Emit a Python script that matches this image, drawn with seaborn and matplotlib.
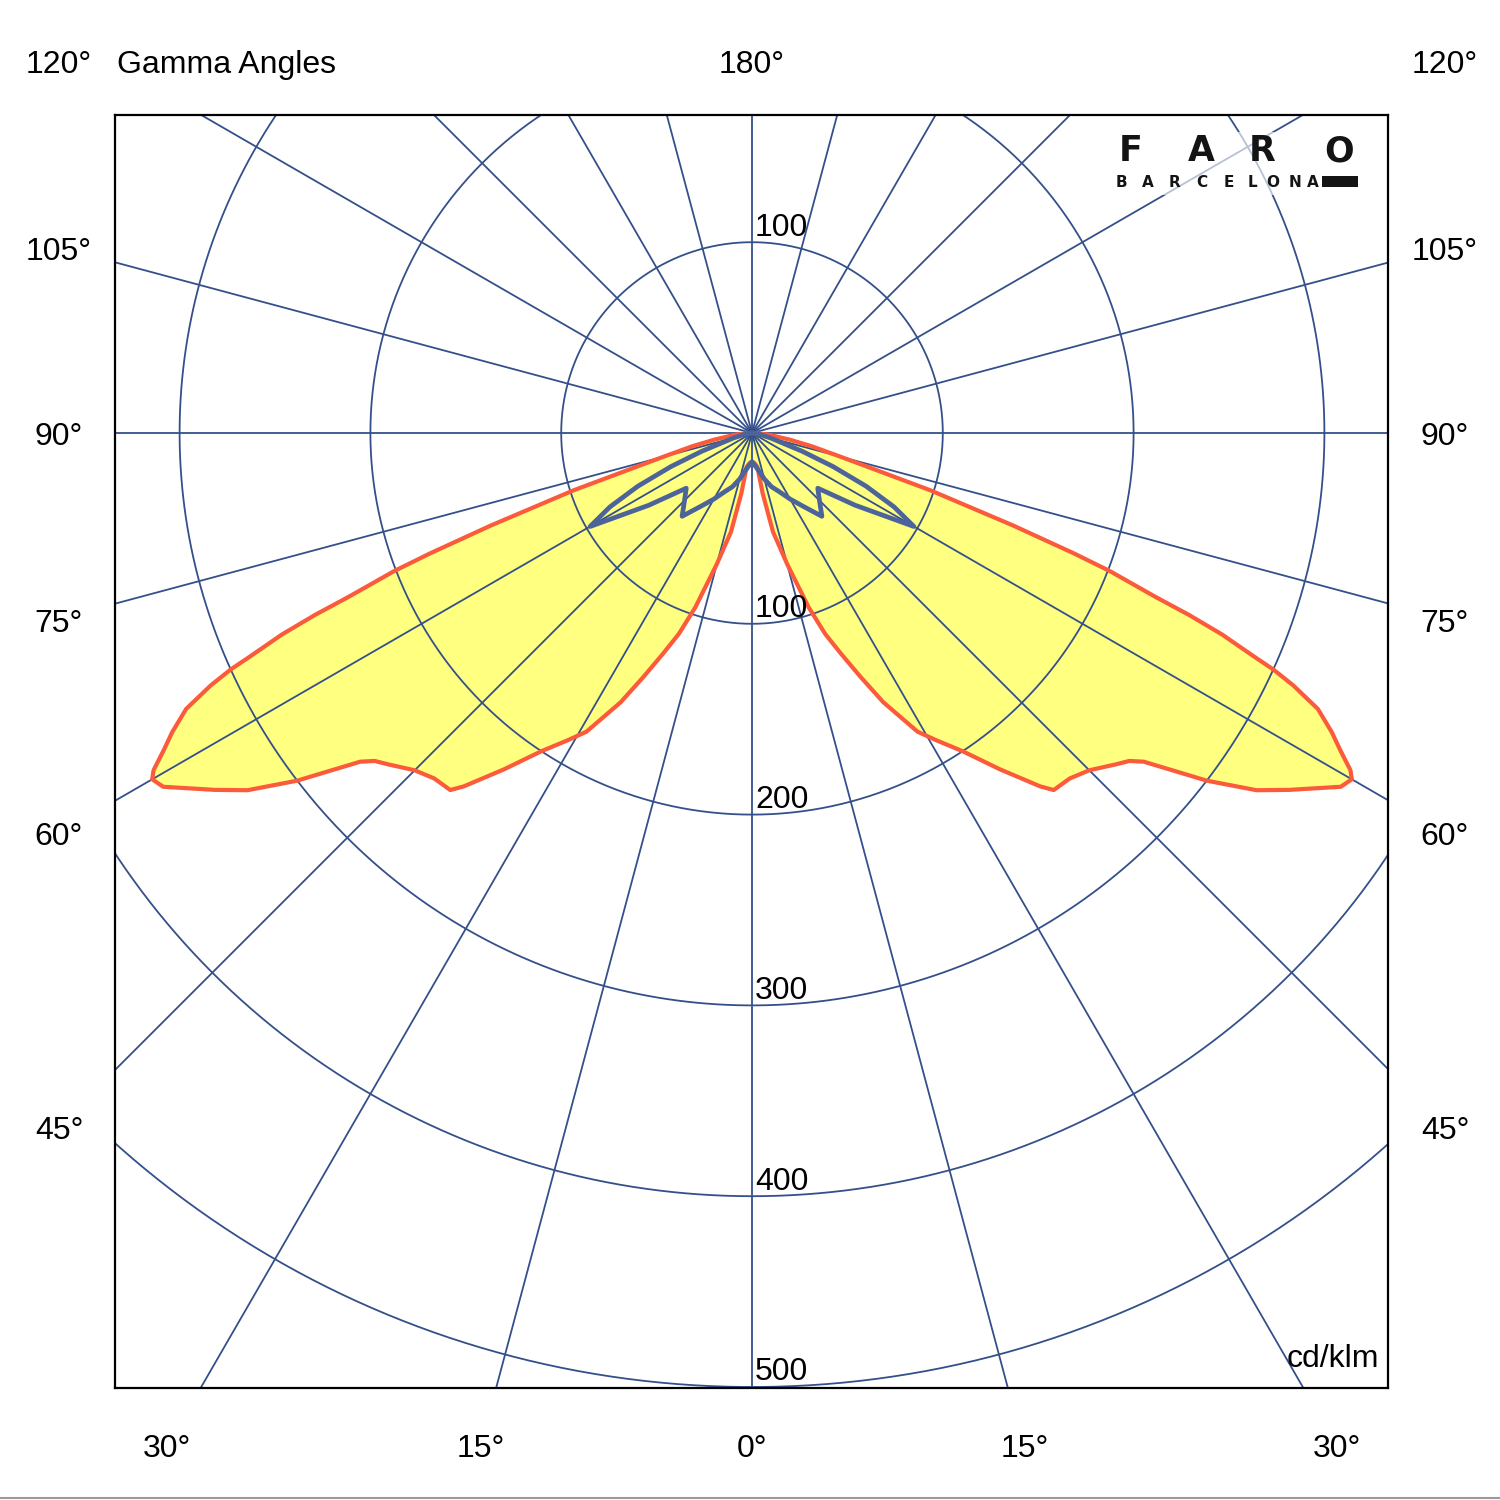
import numpy as np
import pandas as pd
import matplotlib
matplotlib.use("Agg")
import matplotlib.pyplot as plt
import seaborn as sns
from matplotlib.patches import Rectangle
from matplotlib.lines import Line2D

# ---------------- data ----------------
# C0/C180 plane (yellow lobe, red outline): gamma angle (deg) and intensity (cd/klm)
c0_gamma = [0, 5, 9, 10, 12, 15, 18, 20, 22, 24, 26, 29, 31, 33.5, 36.4, 39.2, 40.2,
            42.6, 45, 47.7, 49, 50, 51.3, 52.6, 54.7, 56.4, 59, 60, 60.6, 61.7, 62.7,
            64, 65, 65.6, 66, 66.8, 67.4, 67.9, 68.9, 69.5, 70.5, 72.2, 75, 77.5, 80,
            85, 90]
c0_int = [15, 16, 18, 32, 53, 71, 96, 112, 125, 140, 157, 179, 188, 200, 219, 239, 245,
          246, 250, 258, 262, 268, 283, 300, 324, 338, 360, 363, 360, 350, 342,
          330, 313, 300, 288, 268, 248, 228, 201, 180, 145, 98, 48, 32, 20,
          8, 0]

# C90/C270 plane (blue outline)
c90_gamma = [0, 5, 10, 15, 20, 25, 30, 35, 40, 45, 50, 55, 60, 62.5, 65, 67.5, 70, 75,
             80, 85, 90]
c90_int = [15, 17, 20, 25, 30, 34, 40, 47, 57, 50, 45, 66, 98, 84, 66, 46, 28, 10,
           4, 1, 0]

ring_values = [100, 200, 300, 400, 500]
ring_labels = ["100", "200", "300", "400", "500"]
spoke_angles = list(range(0, 360, 15))

top_labels = ["120°", "180°", "120°"]
side_labels = ["105°", "90°", "75°", "60°", "45°"]
bottom_labels = ["30°", "15°", "0°", "15°", "30°"]
title_text = "Gamma Angles"
unit_text = "cd/klm"

# ---------------- style ----------------
sns.set_theme(style="white")
plt.rcParams["font.family"] = ["Liberation Sans", "DejaVu Sans"]
plt.rcParams["text.color"] = "black"

GRID = "#34508a"
RED = "#fb5b3a"
YELLOW = "#ffff80"
BLUE = "#4c6499"
INK = "black"

W = H = 1500
fig = plt.figure(figsize=(15, 15), dpi=100)
fig.patch.set_facecolor("white")

def fx(x):
    return x / W

def fy(y):
    return 1 - y / H

# axes box in pixels: x 115..1388, y 115..1388 ; centre (752, 433) ; 1.908 px per cd/klm
ax = fig.add_axes([fx(115), fy(1388), (1388 - 115) / W, (1388 - 115) / H])
S = 1.908
XL = (-(752 - 115) / S, (1388 - 752) / S)
YL = (-(1388 - 433) / S, (433 - 115) / S)
ax.set_xticks([])
ax.set_yticks([])
for sp in ax.spines.values():
    sp.set_color("black")
    sp.set_linewidth(1.6)
    sp.set_visible(True)
    sp.set_zorder(9)
ax.set_facecolor("white")


def polar_df(gamma, inten, name):
    g = np.radians(np.asarray(gamma, dtype=float))
    r = np.asarray(inten, dtype=float)
    xl = -(r * np.sin(g))[::-1]
    yl = -(r * np.cos(g))[::-1]
    xr = r * np.sin(g)
    yr = -r * np.cos(g)
    return pd.DataFrame({"x": np.concatenate([xl, xr]),
                         "y": np.concatenate([yl, yr]),
                         "curve": name})

df_c0 = polar_df(c0_gamma, c0_int, "C0-C180")
df_c90 = polar_df(c90_gamma, c90_int, "C90-C270")

# yellow fill
ax.fill(df_c0["x"], df_c0["y"], color=YELLOW, zorder=1, lw=0)

# grid: rings and spokes
t = np.linspace(0, 2 * np.pi, 721)
for rv in ring_values:
    ax.plot(rv * np.cos(t), rv * np.sin(t), color=GRID, lw=1.3, zorder=2)
for a in spoke_angles:
    ar = np.radians(a)
    ax.plot([0, 1200 * np.sin(ar)], [0, -1200 * np.cos(ar)], color=GRID, lw=1.3, zorder=2)

# curves
sns.lineplot(data=df_c0, x="x", y="y", sort=False, estimator=None, color=RED,
             linewidth=3.0, ax=ax, zorder=3, legend=False)
sns.lineplot(data=df_c90, x="x", y="y", sort=False, estimator=None, color=BLUE,
             linewidth=3.4, ax=ax, zorder=4, legend=False)
ax.set_xlabel("")
ax.set_ylabel("")
ax.set_xlim(*XL)
ax.set_ylim(*YL)

# ring labels (just above each ring on the vertical axis)
FS = 23
ax.text(1.6, ring_values[0] + 3.2, ring_labels[0], ha="left", va="baseline",
        fontsize=FS, color=INK, zorder=6)
for rv, lab in zip(ring_values, ring_labels):
    ax.text(1.6, -rv + 3.5, lab, ha="left", va="baseline", fontsize=FS,
            color=INK, zorder=6)

# angle labels around the frame
fig.text(fx(59), fy(73), top_labels[0], ha="center", va="baseline", fontsize=FS, color=INK)
fig.text(fx(752), fy(73), top_labels[1], ha="center", va="baseline", fontsize=FS, color=INK)
fig.text(fx(1445), fy(73), top_labels[2], ha="center", va="baseline", fontsize=FS, color=INK)
fig.text(fx(117), fy(73), title_text, ha="left", va="baseline", fontsize=FS, color=INK)

side_y = [260, 445, 632, 845, 1139]
for lab, yy in zip(side_labels, side_y):
    fig.text(fx(59), fy(yy), lab, ha="center", va="baseline", fontsize=FS, color=INK)
    fig.text(fx(1445), fy(yy), lab, ha="center", va="baseline", fontsize=FS, color=INK)

bottom_x = [167, 481, 752, 1025, 1337]
for lab, xx in zip(bottom_labels, bottom_x):
    fig.text(fx(xx), fy(1457), lab, ha="center", va="baseline", fontsize=FS, color=INK)

fig.text(fx(1379), fy(1367), unit_text, ha="right", va="baseline", fontsize=FS, color=INK)

# FARO Barcelona logo
ax.add_patch(Rectangle((fx(1106), fy(195)), (1368 - 1106) / W, (195 - 132) / H,
                       transform=fig.transFigure, facecolor="white", alpha=0.65,
                       edgecolor="none", zorder=7, clip_on=False))
for ch, xx in zip("FARO", [1131, 1201, 1262, 1339]):
    fig.text(fx(xx), fy(161), ch, ha="center", va="baseline", fontsize=25,
             fontweight="heavy", family=["DejaVu Sans"], color="#141414", zorder=8)
for ch, xx in zip("BARCELONA", [1121, 1147.5, 1174, 1201.5, 1229, 1252, 1273, 1294.5, 1312.5]):
    fig.text(fx(xx), fy(187), ch, ha="center", va="baseline", fontsize=11,
             fontweight="heavy", family=["DejaVu Sans"], color="#141414", zorder=8)
ax.add_patch(Rectangle((fx(1322), fy(187)), (1358 - 1322) / W, (187 - 176) / H,
                       transform=fig.transFigure, facecolor="#141414",
                       edgecolor="none", zorder=8, clip_on=False))

# thin grey rule at the very bottom of the image
fig.add_artist(Line2D([0, 1], [fy(1498), fy(1498)], transform=fig.transFigure,
                      color="#9a9a9a", lw=1.5))

fig.savefig("out.png", dpi=100, facecolor="white")
